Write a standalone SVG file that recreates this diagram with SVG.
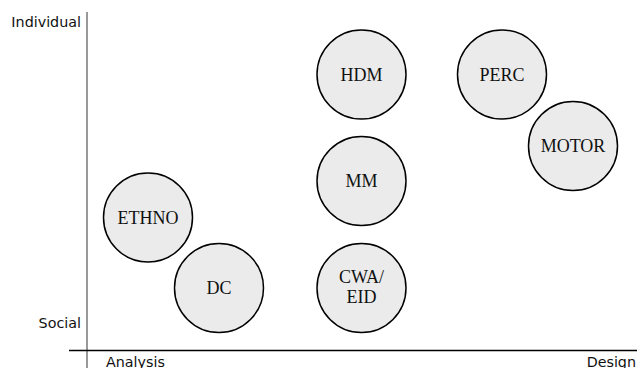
<svg xmlns="http://www.w3.org/2000/svg" width="637" height="368" viewBox="0 0 637 368">
<style>
.node circle{fill:#ebebeb;stroke:#000;stroke-width:1.5}
.node text{font-family:"Liberation Serif",serif;font-size:18px;text-anchor:middle;fill:#111}
.ax{font-family:"DejaVu Sans","Liberation Sans",sans-serif;font-size:14.3px;fill:#111}
</style>
<rect width="637" height="368" fill="#fff"/>
<g id="axes">
<line x1="87" y1="12" x2="87" y2="368" stroke="#777" stroke-width="1.5"/>
<line x1="69" y1="350.5" x2="637" y2="350.5" stroke="#000" stroke-width="1.5"/>
<text class="ax" x="81" y="26.5" text-anchor="end">Individual</text>
<text class="ax" x="81" y="327.5" text-anchor="end">Social</text>
<text class="ax" x="106" y="366.5">Analysis</text>
<text class="ax" x="636" y="366.5" text-anchor="end">Design</text>
</g>
<g id="connectors"></g>
<g id="HDM" class="node"><circle cx="361.5" cy="74.5" r="44.5"/><text x="361.5" y="80.5">HDM</text></g>
<g id="PERC" class="node"><circle cx="502" cy="74.5" r="44.5"/><text x="502" y="80.5">PERC</text></g>
<g id="MOTOR" class="node"><circle cx="573" cy="146" r="44.5"/><text x="573" y="152">MOTOR</text></g>
<g id="MM" class="node"><circle cx="361.5" cy="181" r="44.5"/><text x="361.5" y="187">MM</text></g>
<g id="ETHNO" class="node"><circle cx="148" cy="217.5" r="44.5"/><text x="148" y="223.5">ETHNO</text></g>
<g id="DC" class="node"><circle cx="219" cy="288" r="44.5"/><text x="219" y="294">DC</text></g>
<g id="CWA" class="node"><circle cx="361.5" cy="288" r="44.5"/><text x="361.5" y="283">CWA/</text><text x="361.5" y="303">EID</text></g>
</svg>
